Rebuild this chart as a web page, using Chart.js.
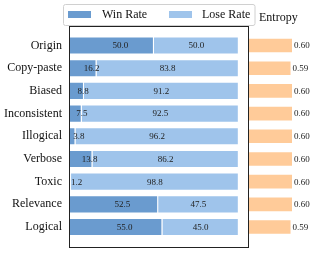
<!DOCTYPE html>
<html>
<head>
<meta charset="utf-8">
<script src="https://cdn.jsdelivr.net/npm/chart.js@4.4.1/dist/chart.umd.min.js"></script>
<style>
  body { margin: 0; background: #fff; }
  #wrap { position: relative; width: 314px; height: 253px; }
  canvas { position: absolute; top: 0; }
  #rateChart { left: 0; }
  #entropyChart { left: 249px; }
</style>
</head>
<body>
<div id="wrap">
  <canvas id="rateChart" width="314" height="253"></canvas>
  <canvas id="entropyChart" width="65" height="253"></canvas>
</div>
<script>
const categories = ['Origin', 'Copy-paste', 'Biased', 'Inconsistent', 'Illogical', 'Verbose', 'Toxic', 'Relevance', 'Logical'];
const winRate = [50.0, 16.2, 8.8, 7.5, 3.8, 13.8, 1.2, 52.5, 55.0];
const loseRate = [50.0, 83.8, 91.2, 92.5, 96.2, 86.2, 98.8, 47.5, 45.0];
const entropy = [0.60, 0.59, 0.60, 0.60, 0.60, 0.60, 0.60, 0.60, 0.59];

const serif = '"Liberation Serif", "Times New Roman", serif';
const winColor = '#6a9bcf';
const loseColor = '#9fc4eb';
const entColor = '#ffcb99';

const rowMin = -0.86, rowMax = 8.88;

function rows(arr) {
  return arr.map((v, i) => ({ x: v, y: i }));
}

const rateLabels = {
  id: 'rateLabels',
  afterDatasetsDraw(chart) {
    const ctx = chart.ctx;
    const x = chart.scales.x;
    ctx.save();
    ctx.font = '9px ' + serif;
    ctx.fillStyle = '#222';
    ctx.textBaseline = 'middle';
    chart.getDatasetMeta(0).data.forEach((bar, i) => {
      ctx.textAlign = 'left';
      ctx.fillText(winRate[i].toFixed(1), x.getPixelForValue(winRate[i] / 2) + 1, bar.y + 0.5);
    });
    chart.getDatasetMeta(1).data.forEach((bar, i) => {
      ctx.textAlign = 'center';
      ctx.fillText(loseRate[i].toFixed(1), x.getPixelForValue(winRate[i] + loseRate[i] / 2), bar.y + 0.5);
    });
    ctx.restore();
  },
  afterDraw(chart) {
    const ctx = chart.ctx;
    const a = chart.chartArea;
    ctx.save();
    // axes frame
    ctx.strokeStyle = '#222';
    ctx.lineWidth = 1;
    ctx.strokeRect(Math.round(a.left) + 0.5, Math.round(a.top) + 0.5, Math.round(a.right - a.left) - 1, Math.round(a.bottom - a.top));
    // legend box
    ctx.fillStyle = 'rgba(255,255,255,0.9)';
    ctx.strokeStyle = '#d0d0d0';
    ctx.beginPath();
    ctx.roundRect(63.5, 4.5, 191.5, 21, 2);
    ctx.fill();
    ctx.stroke();
    ctx.font = '12px ' + serif;
    ctx.textBaseline = 'middle';
    ctx.textAlign = 'left';
    const items = [[68, 102], [169, 202]];
    chart.data.datasets.forEach((ds, i) => {
      ctx.fillStyle = ds.backgroundColor;
      ctx.fillRect(items[i][0], 11, 23, 7);
      ctx.fillStyle = '#111';
      ctx.fillText(ds.label, items[i][1], 15);
    });
    ctx.restore();
  }
};

new Chart(document.getElementById('rateChart'), {
  type: 'bar',
  data: {
    datasets: [
      { label: 'Win Rate', data: rows(winRate), backgroundColor: winColor },
      { label: 'Lose Rate', data: rows(loseRate), backgroundColor: loseColor }
    ]
  },
  options: {
    indexAxis: 'y',
    responsive: false,
    animation: false,
    devicePixelRatio: 1,
    layout: { padding: { top: 26, bottom: 6, right: 65, left: 0 } },
    datasets: {
      bar: {
        categoryPercentage: 1,
        barPercentage: 0.8,
        borderColor: '#fff',
        borderWidth: 1,
        borderSkipped: 'start'
      }
    },
    plugins: { legend: { display: false }, tooltip: { enabled: false } },
    scales: {
      x: { type: 'linear', stacked: true, min: 0, max: 106, display: false, offset: false },
      y: {
        type: 'linear', stacked: true, reverse: true, min: rowMin, max: rowMax, offset: false,
        grid: { display: false, drawTicks: false, offset: false },
        border: { display: false },
        afterBuildTicks: s => { s.ticks = categories.map((c, i) => ({ value: i })); },
        afterFit: s => { s.width = 69; s.paddingTop = 0; s.paddingBottom = 0; },
        ticks: {
          autoSkip: false, padding: 7, color: '#111',
          font: { family: serif, size: 12 },
          callback: v => categories[v] ?? ''
        }
      }
    }
  },
  plugins: [rateLabels]
});

const entLabels = {
  id: 'entLabels',
  afterDatasetsDraw(chart) {
    const ctx = chart.ctx;
    const x = chart.scales.x;
    ctx.save();
    ctx.font = '9px ' + serif;
    ctx.fillStyle = '#222';
    ctx.textBaseline = 'middle';
    ctx.textAlign = 'left';
    chart.getDatasetMeta(0).data.forEach((bar, i) => {
      ctx.fillText(entropy[i].toFixed(2), x.getPixelForValue(entropy[i]) + 1, bar.y + 0.5);
    });
    ctx.font = '12px ' + serif;
    ctx.fillStyle = '#111';
    ctx.fillText('Entropy', 10, 18);
    ctx.restore();
  }
};

new Chart(document.getElementById('entropyChart'), {
  type: 'bar',
  data: {
    datasets: [{ label: 'Entropy', data: rows(entropy), backgroundColor: entColor }]
  },
  options: {
    indexAxis: 'y',
    responsive: false,
    animation: false,
    devicePixelRatio: 1,
    layout: { padding: { top: 26, bottom: 6, right: 21, left: 0 } },
    datasets: {
      bar: { categoryPercentage: 1, barPercentage: 0.8, borderColor: '#fff', borderWidth: 1, borderSkipped: 'start' }
    },
    plugins: { legend: { display: false }, tooltip: { enabled: false } },
    scales: {
      x: { type: 'linear', min: 0.3, max: 0.6, display: false, offset: false },
      y: { type: 'linear', reverse: true, min: rowMin, max: rowMax, display: false, offset: false, grid: { offset: false } }
    }
  },
  plugins: [entLabels]
});
</script>
</body>
</html>
